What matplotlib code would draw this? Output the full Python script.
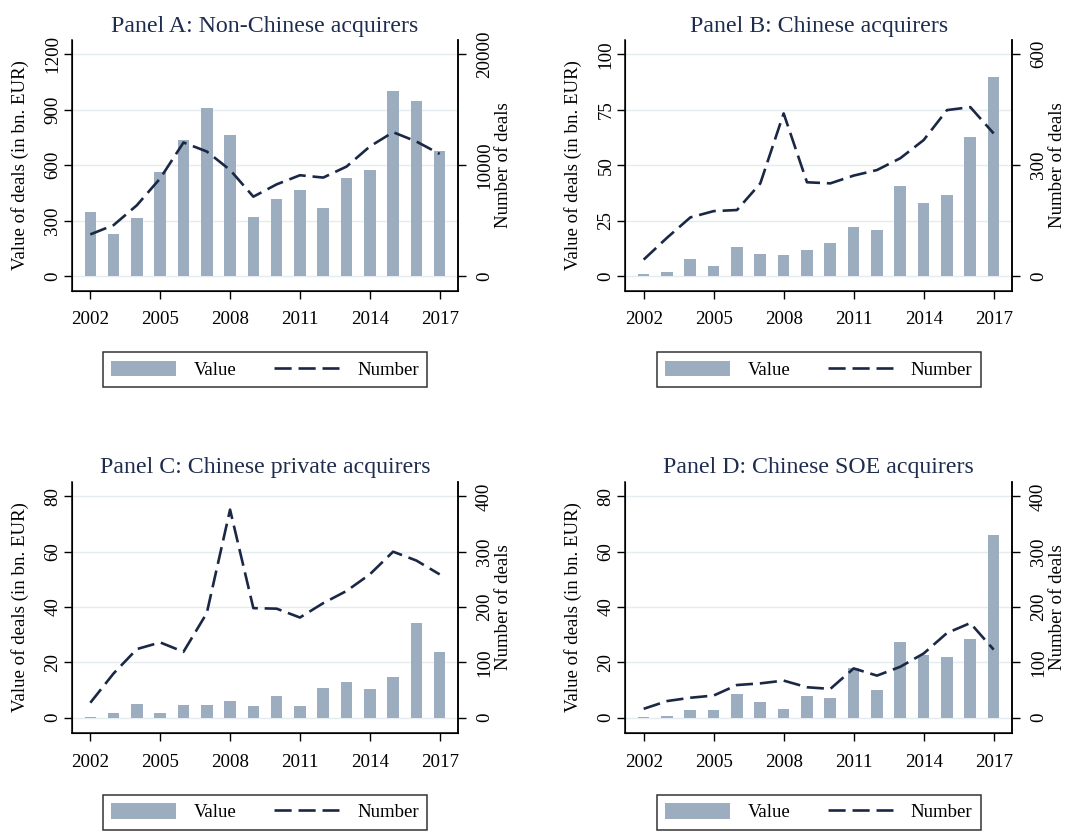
import numpy as np
import matplotlib
matplotlib.use('Agg')
import matplotlib.pyplot as plt
from matplotlib.patches import Patch
from matplotlib.lines import Line2D

plt.rcParams['font.family'] = ['Liberation Serif', 'DejaVu Serif']

years = np.arange(2002, 2018)

# Panel A: non-Chinese acquirers
value_a = [350, 228, 313, 564, 739, 909, 766, 322, 417, 466, 370, 533, 575, 1003, 949, 678]
number_a = [3770, 4610, 6400, 8820, 12050, 11240, 9580, 7170, 8280, 9100, 8890, 9880, 11690, 12980, 12140, 11020]

# Panel B: Chinese acquirers
value_b = [0.9, 2.1, 7.8, 4.5, 13.1, 10.2, 9.5, 12.0, 15.2, 22.1, 20.8, 40.6, 33.1, 36.8, 62.6, 89.8]
number_b = [45, 104, 159, 176, 179, 251, 440, 254, 251, 272, 287, 319, 368, 449, 457, 386]

# Panel C: Chinese private acquirers
value_c = [0.4, 1.6, 4.8, 1.7, 4.6, 4.6, 6.2, 4.1, 8.0, 4.1, 10.9, 13.0, 10.4, 14.7, 34.1, 23.8]
number_c = [27, 80, 124, 136, 119, 189, 376, 198, 197, 181, 207, 229, 259, 300, 284, 259]

# Panel D: Chinese SOE acquirers
value_d = [0.2, 0.5, 2.9, 2.7, 8.4, 5.7, 3.1, 7.8, 7.1, 18.1, 9.9, 27.4, 22.7, 22.1, 28.5, 66.1]
number_d = [16, 30, 36, 40, 59, 62, 67, 55, 52, 89, 76, 92, 116, 153, 171, 123]

titles = ['Panel A: Non-Chinese acquirers', 'Panel B: Chinese acquirers',
          'Panel C: Chinese private acquirers', 'Panel D: Chinese SOE acquirers']
left_ticks = [[0, 300, 600, 900, 1200], [0, 25, 50, 75, 100], [0, 20, 40, 60, 80], [0, 20, 40, 60, 80]]
right_ticks = [[0, 10000, 20000], [0, 300, 600], [0, 100, 200, 300, 400], [0, 100, 200, 300, 400]]
left_lims = [(-78, 1277), (-6.5, 106.4), (-5.65, 85.3), (-5.65, 85.3)]
scale = [20000 / 1200, 6, 5, 5]
values = [value_a, value_b, value_c, value_d]
numbers = [number_a, number_b, number_c, number_d]

W, H = 1065, 832
# axes boxes in pixels: left, top, right, bottom
boxes = [(71.7, 40, 458.3, 290.7), (625, 40, 1012.3, 290.7),
         (71.7, 481.7, 458.3, 733.3), (625, 481.7, 1012.3, 733.3)]

bar_col = '#9badbf'
line_col = '#1b2845'
title_col = '#1e2c4e'
grid_col = '#e4ecef'
fs = 13.6
dash = (6.5, 2.6)

fig = plt.figure(figsize=(W / 100, H / 100), dpi=100)

for i in range(4):
    x0, y0, x1, y1 = boxes[i]
    wpx = x1 - x0
    hpx = y1 - y0
    ax = fig.add_axes([x0 / W, 1 - y1 / H, wpx / W, hpx / H])
    ax.set_xlim(2001.2, 2017.8)
    ax.set_ylim(*left_lims[i])
    ax.set_yticks(left_ticks[i])
    ax.set_yticklabels([str(t) for t in left_ticks[i]], rotation=90, va='center', fontsize=fs)
    ax.grid(axis='y', color=grid_col, lw=1.0)
    ax.set_axisbelow(True)
    ax.bar(years, values[i], width=0.5, color=bar_col, zorder=2)
    ax.set_xticks([2002, 2005, 2008, 2011, 2014, 2017])
    ax.tick_params(axis='x', labelsize=fs, length=5.6, width=1, pad=9)
    ax.tick_params(axis='y', length=5.6, width=1, pad=2)
    ax.set_ylabel('Value of deals (in bn. EUR)', fontsize=fs)
    ax.yaxis.set_label_coords(-51.7 / wpx, 0.5)
    ax.yaxis.label.set_va('center')
    ax.spines['top'].set_visible(False)
    for s in ['left', 'bottom', 'right']:
        ax.spines[s].set_linewidth(1.1)
    ax.set_title(titles[i], fontsize=17.2, color=title_col, pad=6)

    ax2 = ax.twinx()
    lo, hi = left_lims[i]
    ax2.set_ylim(lo * scale[i], hi * scale[i])
    ax2.set_yticks(right_ticks[i])
    ax2.set_yticklabels([str(t) for t in right_ticks[i]], rotation=90, va='center', fontsize=fs)
    ax2.tick_params(axis='y', length=5.6, width=1, pad=7)
    ax2.plot(years, numbers[i], color=line_col, lw=1.9, dashes=dash)
    ax2.set_ylabel('Number of deals', fontsize=fs)
    ax2.yaxis.set_label_coords(1 + 45.5 / wpx, 0.5)
    ax2.yaxis.label.set_va('center')
    ax2.spines['top'].set_visible(False)
    ax2.spines['right'].set_linewidth(1.1)

    handles = [Patch(facecolor=bar_col, edgecolor='none'),
               Line2D([], [], color=line_col, lw=1.9, dashes=dash)]
    leg = ax.legend(handles, ['Value', 'Number'], ncol=2, loc='upper center',
                    bbox_to_anchor=(0.5, -61.6 / hpx), frameon=True, fancybox=False,
                    edgecolor='black', fontsize=13.5, handlelength=3.47, handleheight=0.87,
                    handletextpad=0.94, columnspacing=2.0, borderpad=0.45,
                    borderaxespad=0)
    leg.get_frame().set_linewidth(1.1)

fig.savefig('out.png', dpi=100)
